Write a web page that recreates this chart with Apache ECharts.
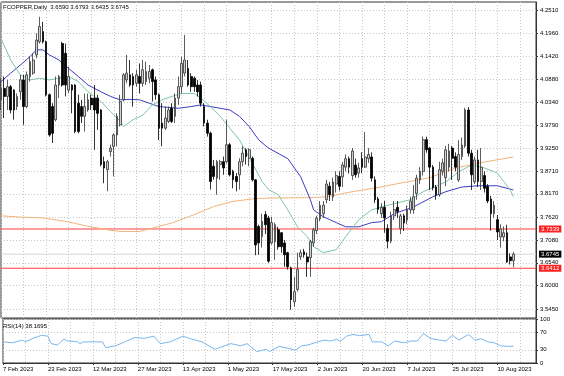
<!DOCTYPE html>
<html>
<head>
<meta charset="utf-8">
<script src="https://cdn.jsdelivr.net/npm/echarts@6/dist/echarts.min.js"></script>
<style>
  html, body { margin: 0; padding: 0; background: #fff; }
  #chart { width: 564px; height: 376px; }
</style>
</head>
<body>
<div id="chart"></div>
<script>
// daily candles, oldest first
var opens = [4.039,4.066,4.047,4.070,4.062,4.023,4.058, 4.086,4.023,4.094,4.102,4.145,4.176,4.200,
  4.176,4.051,4.023,3.992,4.074,4.172,4.149, 4.062,4.074,4.074,4.031,4.023,4.000,4.015,
  4.043,4.043,4.043,4.015,3.893,3.874,3.917, 3.929,3.956,3.980,4.039,4.086,4.098,4.094,
  4.078,4.094,4.078,4.082,4.090,4.110,4.086, 4.051,3.984,3.972,3.988,4.019,4.000,4.043,
  4.070,4.102,4.113,4.094,4.090,4.074,4.074, 4.023,3.984,3.960,3.882,3.854,3.886,3.893,
  3.893,3.933,3.870,3.858,3.862,3.893,3.921, 3.901,3.901,3.850,3.740,3.716,3.768,3.760,
  3.701,3.704,3.732,3.725,3.701,3.678,3.642, 3.562,3.591,3.668,3.680,3.668,3.666,3.701,
  3.730,3.758,3.770,3.803,3.835,3.810,3.840, 3.858,3.857,3.880,3.900,3.860,3.885,3.866,
  3.900,3.880,3.900,3.904,3.850,3.805,3.770, 3.785,3.735,3.705,3.765,3.785,3.735,3.765,
  3.755,3.779,3.779,3.818,3.850,3.870,3.945, 3.925,3.880,3.833,3.815,3.870,3.855,3.880,
  3.925,3.905,3.850,3.905,3.930,4.015,3.913, 3.846,3.897,3.846,3.860,3.835,3.805,3.770,
  3.756,3.715,3.715,3.725,3.668,3.6590];
var highs = [4.090,4.094,4.086,4.074,4.064,4.054,4.098, 4.098,4.106,4.141,4.149,4.196,4.235,4.223,
  4.179,4.054,4.031,4.094,4.098,4.176,4.172, 4.117,4.076,4.076,4.051,4.039,4.054,4.054,
  4.051,4.074,4.051,4.017,3.905,3.897,3.933, 3.960,4.007,4.051,4.102,4.145,4.133,4.102,
  4.110,4.125,4.133,4.129,4.121,4.113,4.094, 4.054,4.031,4.023,4.023,4.031,4.054,4.094,
  4.141,4.192,4.133,4.102,4.094,4.086,4.082, 4.031,3.992,3.964,3.897,3.897,3.897,3.905,
  3.992,3.937,3.874,3.866,3.901,3.929,3.925, 3.925,3.905,3.852,3.744,3.770,3.776,3.765,
  3.763,3.749,3.739,3.727,3.708,3.680,3.645, 3.621,3.678,3.685,3.687,3.678,3.708,3.737,
  3.765,3.800,3.800,3.850,3.845,3.855,3.870, 3.870,3.892,3.910,3.905,3.925,3.900,3.890,
  3.915,3.963,3.925,3.915,3.858,3.810,3.795, 3.800,3.745,3.775,3.800,3.800,3.770,3.770,
  3.790,3.810,3.838,3.862,3.880,3.952,3.952, 3.927,3.885,3.838,3.893,3.900,3.930,3.935,
  3.930,3.915,3.944,3.950,4.020,4.022,3.921, 3.905,3.921,3.925,3.870,3.840,3.812,3.800,
  3.767,3.745,3.740,3.744,3.676,3.6793];
var lows = [4.015,3.996,4.015,4.007,3.992,4.015,4.039, 3.980,4.019,4.082,4.098,4.137,4.172,4.172,
  4.047,3.952,3.937,3.988,4.043,4.070,4.047, 4.054,4.007,3.960,3.960,3.984,3.964,4.011,
  4.015,3.921,3.968,3.882,3.842,3.823,3.905, 3.858,3.929,3.976,4.035,4.078,4.070,4.023,
  4.070,4.054,4.070,4.074,4.078,4.035,4.039, 3.944,3.929,3.968,3.984,3.984,3.984,4.027,
  4.054,4.094,4.070,4.058,4.058,4.047,4.023, 3.976,3.952,3.827,3.850,3.815,3.850,3.862,
  3.889,3.858,3.830,3.823,3.827,3.882,3.886, 3.882,3.846,3.672,3.673,3.690,3.722,3.654,
  3.697,3.661,3.685,3.678,3.645,3.638,3.543, 3.550,3.586,3.661,3.666,3.621,3.621,3.692,
  3.722,3.752,3.760,3.795,3.800,3.800,3.820, 3.825,3.833,3.870,3.865,3.850,3.855,3.855,
  3.866,3.878,3.890,3.846,3.795,3.770,3.760, 3.725,3.688,3.700,3.755,3.760,3.722,3.729,
  3.745,3.770,3.770,3.803,3.840,3.860,3.914, 3.826,3.825,3.803,3.810,3.860,3.835,3.870,
  3.850,3.870,3.845,3.897,3.925,3.905,3.826, 3.840,3.833,3.826,3.820,3.795,3.730,3.760,
  3.708,3.690,3.705,3.654,3.650,3.6435];
var closes = [4.066,4.047,4.070,4.015,4.015,4.047,4.086, 4.023,4.098,4.129,4.133,4.180,4.212,4.176,
  4.051,3.956,3.960,4.074,4.094,4.074,4.074, 4.094,4.062,3.964,3.964,4.000,4.023,4.039,
  4.027,4.015,4.007,3.886,3.878,3.893,3.925, 3.956,4.000,4.035,4.098,4.102,4.074,4.074,
  4.098,4.078,4.110,4.106,4.106,4.082,4.051, 3.972,3.972,3.996,4.015,3.988,4.043,4.070,
  4.125,4.133,4.074,4.070,4.070,4.058,4.031, 3.984,3.960,3.846,3.858,3.893,3.893,3.878,
  3.933,3.862,3.850,3.846,3.893,3.913,3.905, 3.921,3.850,3.696,3.701,3.752,3.744,3.658,
  3.749,3.744,3.692,3.692,3.673,3.645,3.567, 3.586,3.638,3.678,3.673,3.656,3.704,3.732,
  3.760,3.790,3.790,3.840,3.815,3.845,3.860, 3.835,3.885,3.900,3.880,3.918,3.862,3.878,
  3.880,3.904,3.910,3.854,3.803,3.780,3.785, 3.760,3.705,3.765,3.780,3.775,3.765,3.748,
  3.779,3.800,3.810,3.854,3.870,3.945,3.921, 3.880,3.831,3.815,3.874,3.890,3.921,3.918,
  3.901,3.880,3.910,3.932,4.015,3.913,3.862, 3.897,3.846,3.880,3.830,3.800,3.770,3.790,
  3.727,3.734,3.725,3.656,3.659,3.6745];

// moving averages as [bar, value]
var maFast = [[0,4.184],[3,4.133],[6,4.098],[9,4.086],[12,4.090],[15,4.086],[18,4.090],[21,4.094],
  [24,4.082],[27,4.058],[31,4.035],[34,4.011],[37,3.988],[38,3.976],[41,3.992],[44,4.003],[47,4.027],
  [50,4.039],[53,4.047],[56,4.054],[60,4.054],[62,4.043],[65,4.023],[68,4.000],[71,3.972],[74,3.944],
  [78,3.889],[81,3.846],[83,3.827],[86,3.815],[89,3.779],[92,3.739],[95,3.716],[97,3.692],[100,3.678],
  [104,3.685],[107,3.716],[111,3.756],[115,3.779],[120,3.790],[127,3.803],[131,3.822],[138,3.845],
  [142,3.869],[146,3.885],[150,3.878],[154,3.866],[158,3.826],[159,3.810]];
var maMid = [[0,4.082],[3,4.102],[6,4.121],[9,4.141],[11,4.157],[13,4.157],[15,4.145],[18,4.133],
  [21,4.113],[24,4.094],[27,4.074],[31,4.058],[34,4.047],[37,4.039],[40,4.040],[43,4.039],[46,4.031],
  [49,4.023],[52,4.021],[55,4.019],[59,4.023],[62,4.027],[65,4.023],[68,4.019],[71,4.015],[74,4.000],
  [77,3.976],[80,3.944],[83,3.925],[89,3.900],[93,3.857],[96,3.803],[97,3.779],[100,3.763],[104,3.749],
  [107,3.739],[111,3.739],[115,3.749],[118,3.751],[122,3.770],[128,3.786],[134,3.810],[138,3.822],
  [143,3.833],[148,3.836],[154,3.836],[159,3.826]];
var maSlow = [[0,3.765],[6,3.762],[13,3.760],[20,3.752],[26,3.742],[33,3.732],[37,3.728],[43,3.728],
  [47,3.736],[53,3.748],[60,3.768],[66,3.787],[72,3.799],[78,3.805],[83,3.807],[97,3.808],[101,3.810],
  [109,3.822],[118,3.833],[121,3.838],[133,3.855],[141,3.878],[150,3.892],[159,3.904]];
var rsi14 = [[0,48],[3,46],[6,52],[7,48],[9,55],[12,63],[14,61],[15,44],[17,41],[19,55],[20,50],[23,49],
  [24,44],[25,48],[28,48],[31,48],[32,35],[35,39],[38,48],[41,58],[44,56],[47,61],[49,44],[52,48],[56,61],
  [58,56],[62,48],[66,31],[69,39],[71,44],[74,39],[76,44],[79,26],[82,31],[83,26],[86,38],[89,33],[91,29],
  [93,39],[95,41],[98,48],[100,52],[102,50],[104,54],[105,49],[107,61],[109,65],[111,62],[114,65],[115,48],
  [118,48],[120,39],[122,50],[125,46],[127,50],[129,50],[131,67],[133,56],[136,52],[138,50],[140,63],
  [142,52],[145,65],[147,52],[149,55],[151,48],[153,46],[155,39],[157,38],[159,38.17]];

var priceTicks = [4.2510, 4.1960, 4.1420, 4.0880, 4.0340, 3.9790, 3.9250, 3.8710, 3.8170,
  3.7620, 3.7080, 3.6540, 3.6000, 3.5450];
var rsiTicks = [0, 30, 70, 100];
var dateLabels = ['7 Feb 2023', '23 Feb 2023', '12 Mar 2023', '27 Mar 2023', '13 Apr 2023', '1 May 2023',
  '17 May 2023', '2 Jun 2023', '20 Jun 2023', '7 Jul 2023', '25 Jul 2023', '10 Aug 2023'];
var levels = [3.7339, 3.6412];
var bidPrice = 3.6745;
var titleText = 'FCOPPER,Daily  3.6590 3.6793 3.6435 3.6745';
var rsiText = 'RSI(14) 38.1695';

var slots = 167;      // bars plus empty space on the right
var barsPerLabel = 14;
var barsPerGrid = 7;

var cats = [];
for (var i = 0; i < slots; i++) cats.push(String(i));
var candles = opens.map(function (o, i) { return [o, closes[i], lows[i], highs[i]]; });

var FONT = 'Liberation Sans';
var dotted = { color: '#c6c6c6', type: [1, 2], width: 1 };

var chart = echarts.init(document.getElementById('chart'), null, { renderer: 'canvas' });

// horizontal price line across the whole pane, with a tag on the price scale
function priceLine(name, v, lineColor, tagColor, z) {
  return {
    name: name, type: 'line', xAxisIndex: 0, yAxisIndex: 0,
    data: [[0, v], [slots - 1, v]], showSymbol: false, silent: true, z: z,
    lineStyle: { color: lineColor, width: 1 },
    endLabel: {
      show: true, distance: 3, formatter: v.toFixed(4),
      backgroundColor: tagColor, color: '#fff', fontSize: 6, fontFamily: FONT, padding: [1, 2, 0, 2]
    }
  };
}

chart.setOption({
  animation: false,
  backgroundColor: '#fff',
  grid: [
    { left: 1, right: 28, top: 2, height: 316, show: true, borderColor: '#333', borderWidth: 1 },
    { left: 1, right: 28, top: 319, height: 44, show: true, borderColor: '#333', borderWidth: 1 }
  ],
  xAxis: [
    {
      type: 'category', gridIndex: 0, data: cats, boundaryGap: false,
      axisLine: { show: false }, axisTick: { show: false }, axisLabel: { show: false },
      splitLine: { show: true, interval: function (i) { return i % barsPerGrid === 0; }, lineStyle: dotted }
    },
    {
      type: 'category', gridIndex: 1, data: cats, boundaryGap: false,
      axisLine: { show: true, lineStyle: { color: '#333' } },
      axisTick: { show: true, length: 2, lineStyle: { color: '#333' },
        interval: function (i) { return i % barsPerLabel === 0; } },
      axisLabel: {
        show: true, interval: function (i) { return i % barsPerLabel === 0; },
        formatter: function (v, i) { return dateLabels[Math.round(i / barsPerLabel)] || ''; },
        align: 'left', margin: 3, fontSize: 6, fontFamily: FONT, color: '#000'
      },
      splitLine: { show: true, interval: function (i) { return i % barsPerGrid === 0; }, lineStyle: dotted }
    }
  ],
  yAxis: [
    {
      type: 'value', gridIndex: 0, position: 'right', min: 3.5237, max: 4.2700, scale: true,
      axisLine: { show: true, lineStyle: { color: '#333' } },
      axisTick: { show: true, length: 2, customValues: priceTicks, lineStyle: { color: '#333' } },
      axisLabel: { show: true, customValues: priceTicks, margin: 4, fontSize: 6, fontFamily: FONT, color: '#000',
        formatter: function (v) { return v.toFixed(4); } },
      splitLine: { show: true, lineStyle: dotted }
    },
    {
      type: 'value', gridIndex: 1, position: 'right', min: 0, max: 100,
      axisLine: { show: true, lineStyle: { color: '#333' } },
      axisTick: { show: true, length: 2, customValues: rsiTicks, lineStyle: { color: '#333' } },
      axisLabel: { show: true, customValues: rsiTicks, margin: 4, fontSize: 6, fontFamily: FONT, color: '#000' },
      splitLine: { show: true, lineStyle: dotted }
    }
  ],
  series: [
    priceLine('bid', bidPrice, '#d6d6d6', '#000', 1),
    priceLine('level 1', levels[0], '#ff3c3c', '#ff2020', 1),
    priceLine('level 2', levels[1], '#ff3c3c', '#ff2020', 1),
    {
      name: 'FCOPPER', type: 'candlestick', xAxisIndex: 0, yAxisIndex: 0,
      data: candles, barWidth: 2.2,
      itemStyle: {
        color: '#d0d0d0', color0: '#000', borderColor: '#333', borderColor0: '#000', borderWidth: 0.8
      },
      z: 3
    },
    { name: 'MA slow', type: 'line', xAxisIndex: 0, yAxisIndex: 0, data: maSlow, showSymbol: false,
      lineStyle: { color: '#f2b47c', width: 1 }, z: 2 },
    { name: 'MA mid', type: 'line', xAxisIndex: 0, yAxisIndex: 0, data: maMid, showSymbol: false,
      lineStyle: { color: '#3c3cc4', width: 1 }, z: 2 },
    { name: 'MA fast', type: 'line', xAxisIndex: 0, yAxisIndex: 0, data: maFast, showSymbol: false,
      lineStyle: { color: '#7cc8a4', width: 1 }, z: 2 },
    { name: 'RSI', type: 'line', xAxisIndex: 1, yAxisIndex: 1, data: rsi14, showSymbol: false,
      lineStyle: { color: '#7ab6ec', width: 1 } }
  ],
  graphic: [
    { type: 'text', left: 3, top: 4, style: { text: titleText, fontSize: 6, fontFamily: FONT, fill: '#000' } },
    { type: 'text', left: 3, top: 323, style: { text: rsiText, fontSize: 6, fontFamily: FONT, fill: '#000' } }
  ]
});
</script>
</body>
</html>
